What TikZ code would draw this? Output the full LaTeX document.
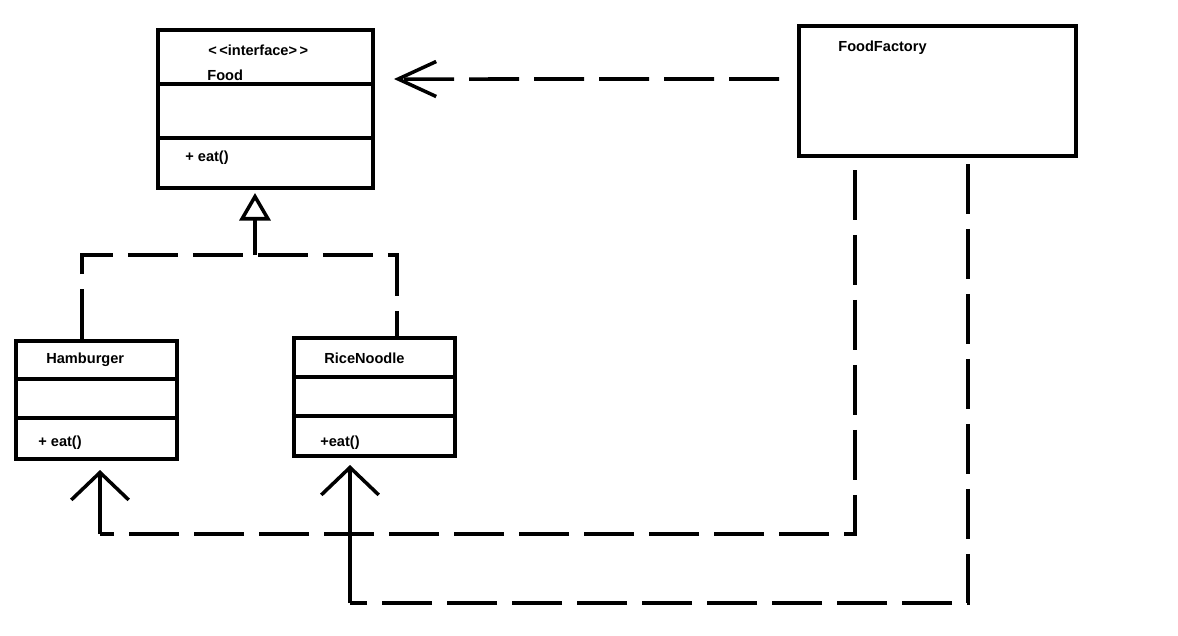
\documentclass[tikz,border=0pt]{standalone}
\usepackage{fontspec}
\setmainfont{Liberation Sans}
\usetikzlibrary{arrows.meta}

\tikzset{
  umlbox/.style={draw,line width=2.3pt,rectangle,inner sep=0pt},
  umltext/.style={anchor=west,inner sep=0pt,font=\fontsize{8.3}{10}\selectfont\bfseries},
  divider/.style={line width=2pt},
  dashline/.style={line width=2pt,dash pattern=on 1cm off 0.3cm},
  solidline/.style={line width=2pt},
  barb/.style={-{Straight Barb[length=0.55cm,width=1.15cm,line width=2pt]}},
  widebarb/.style={-{Straight Barb[length=0.76cm,width=0.7cm,line width=2pt]}},
}

\begin{document}
\begin{tikzpicture}[x=0.02cm,y=-0.02cm,line cap=butt,line join=miter]
  \useasboundingbox (0,0) rectangle (1178,636);

  % Boxes
  \node[umlbox,minimum width=4.3cm,minimum height=3.16cm] (food) at (265.5,109) {};
  \node[umlbox,minimum width=3.22cm,minimum height=2.36cm] (burger) at (96.5,400) {};
  \node[umlbox,minimum width=3.22cm,minimum height=2.36cm] (noodle) at (374.5,397) {};
  \node[umlbox,minimum width=5.54cm,minimum height=2.6cm] (factory) at (937.5,91) {};

  % Compartments
  \draw[divider] (food.north west) ++(0,56) -- ++(215,0);
  \draw[divider] (food.north west) ++(0,110) -- ++(215,0);
  \draw[divider] (burger.north west) ++(0,40) -- ++(161,0);
  \draw[divider] (burger.north west) ++(0,79) -- ++(161,0);
  \draw[divider] (noodle.north west) ++(0,41) -- ++(161,0);
  \draw[divider] (noodle.north west) ++(0,80) -- ++(161,0);

  % Labels
  \node[umltext] (foodstereo) at (208,50) {{<}\,{<}interface{>}\,{>}};
  \node[umltext] (foodname) at (207,75) {Food};
  \node[umltext] (foodop) at (185,158) {+ eat()};
  \node[umltext] (burgername) at (46,360) {Hamburger};
  \node[umltext] (burgerop) at (38,443) {+ eat()};
  \node[umltext] (noodlename) at (324,358) {RiceNoodle};
  \node[umltext] (noodleop) at (320,443) {+eat()};
  \node[umltext] (factoryname) at (838,48) {FoodFactory};

  % Realization
  \coordinate (join) at (255,255);
  \draw[dashline] ([xshift=-0.29cm]burger.north) |- (join) -| ([xshift=0.45cm]noodle.north);
  \draw[solidline,-{Triangle[open,length=0.55cm,width=0.62cm,line width=2pt]}]
    (join) -- ([yshift=-0.06cm]join |- food.south);

  % Dependencies
  \draw[dashline,widebarb] ([xshift=-0.36cm,yshift=0.24cm]factory.west)
    -- ([xshift=0.38cm,yshift=0.6cm]food.east);

  \coordinate (burgertip) at ([xshift=0.07cm,yshift=-0.18cm]burger.south);
  \coordinate (noodletip) at ([xshift=-0.49cm,yshift=-0.14cm]noodle.south);
  \coordinate (low1) at (0,534);
  \coordinate (low2) at (0,603);
  \draw[dashline] ([xshift=-1.65cm,yshift=-0.24cm]factory.south) |- (burgertip |- low1);
  \draw[solidline,barb] (burgertip |- low1) -- (burgertip);
  \draw[dashline] ([xshift=0.61cm,yshift=-0.12cm]factory.south) |- (noodletip |- low2);
  \draw[solidline,barb] (noodletip |- low2) -- (noodletip);
\end{tikzpicture}
\end{document}
